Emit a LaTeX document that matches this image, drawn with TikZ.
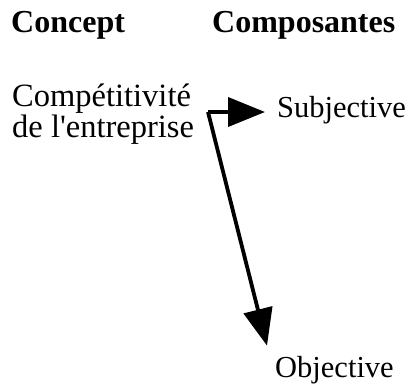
\documentclass[tikz,border=0pt]{standalone}
\usepackage{fontspec}
\setmainfont{Liberation Serif}
\usetikzlibrary{arrows.meta}
\begin{document}
\begin{tikzpicture}[x=1pt,y=-1pt,
  head/.style={inner sep=0pt,anchor=base west,font=\fontsize{32}{36}\selectfont\bfseries},
  label/.style={inner sep=0pt,anchor=base west,font=\fontsize{30.5}{27}\selectfont},
  link/.style={line width=3.8pt,-{Triangle[length=37pt,width=29pt]}}]
  \useasboundingbox (0,0) rectangle (411,384);
  % column headings
  \node[head] (hconcept) at (11,32) {Concept};
  \node[head] (hcomp) at (212,32) {Composantes};
  % concept and its components
  \node[label,align=left,font=\fontsize{32.5}{27}\selectfont] (concept) at (12,137)
    {Compétitivité\\de l\textquotesingle entreprise};
  \node[label] (sub) at (277,117) {Subjective};
  \node[label] (obj) at (275,377) {Objective};
  % branching connector
  \coordinate (split) at (208,112);
  \draw[link] (split) -- ([xshift=-12pt]sub.west |- split);
  \draw[link] (split) -- ([xshift=-8pt,yshift=10pt]obj.north west);
\end{tikzpicture}
\end{document}
